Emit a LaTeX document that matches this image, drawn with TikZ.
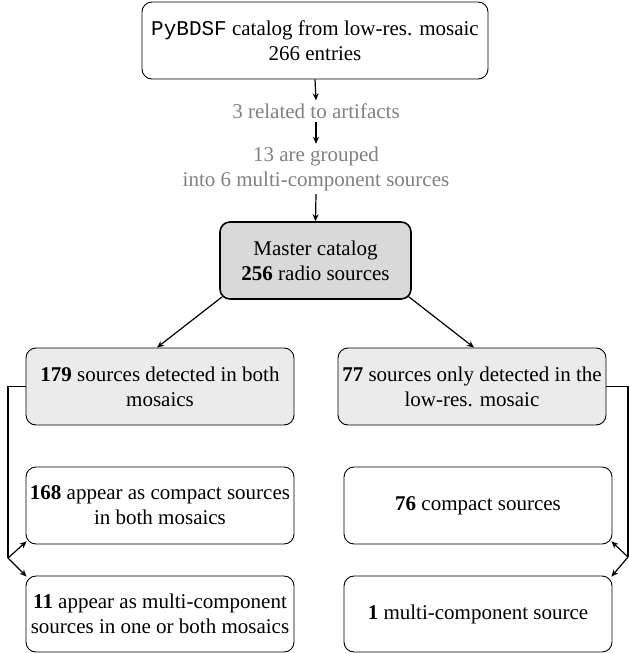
\documentclass[tikz,border=0pt]{standalone}
\usepackage{fontspec}
\setmainfont{Liberation Serif}
\setmonofont{Liberation Mono}
\usetikzlibrary{arrows.meta,calc}
\begin{document}
\begin{tikzpicture}[x=1bp,y=-1bp,
  every node/.style={font=\fontsize{21bp}{25bp}\selectfont, align=center},
  box/.style={draw=black, line width=0.9bp, rounded corners=10bp, minimum width=268bp, minimum height=77bp, inner sep=0pt},
  graybox/.style={box, fill=black!8},
  masterbox/.style={box, fill=black!15, line width=1.6bp, minimum width=191bp},
  note/.style={text=black!50, inner sep=3bp},
  arr/.style={line width=1.2bp, -{Stealth[length=7bp,width=6bp]}},
  conn/.style={line width=1.2bp}]
\useasboundingbox (0,0) rectangle (629,653);
\node[box, minimum width=346bp] (top) at (315,40.5) {\texttt{PyBDSF} catalog from low-res. mosaic\\266 entries};
\node[note] (t1) at (316,111) {3 related to artifacts};
\node[note] (t2) at (316,169) {13 are grouped\\into 6 multi-component sources};
\node[masterbox] (master) at (315.5,260.5) {Master catalog\\\textbf{256} radio sources};
\node[graybox] (lg) at (160,386.5) {\textbf{179} sources detected in both\\mosaics};
\node[graybox] (rg) at (472,386.5) {\textbf{77} sources only detected in the\\low-res. mosaic};
\node[box] (l168) at (160,505.5) {\textbf{168} appear as compact sources\\in both mosaics};
\node[box, minimum height=76bp] (l11) at (160,614) {\textbf{11} appear as multi-component\\sources in one or both mosaics};
\node[box] (r76) at (478,505.5) {\textbf{76} compact sources};
\node[box, minimum height=76bp] (r1) at (478,614) {\textbf{1} multi-component source};
\draw[arr] (top.south) -- (t1.north);
\draw[arr] (t1.south) -- (t2.north);
\draw[arr] (t2.south) -- (master.north);
\draw[arr] ($(master.south west)+(3bp,3bp)$) -- ($(lg.north)+(-3bp,0)$);
\draw[arr] ($(master.south east)+(-3bp,3bp)$) -- ($(rg.north)+(2bp,0)$);
\coordinate (lj) at (8,558);
\coordinate (rj) at (628,557);
\draw[conn] (lg.west) -| (lj);
\draw[arr] (lj) -- ($(l168.south west)+(1bp,3bp)$);
\draw[arr] (lj) -- ($(l11.north west)+(1bp,-1bp)$);
\draw[conn] (rg.east) -| (rj);
\draw[arr] (rj) -- ($(r76.south east)+(-1bp,3bp)$);
\draw[arr] (rj) -- ($(r1.north east)+(-1bp,-1bp)$);
\end{tikzpicture}
\end{document}
